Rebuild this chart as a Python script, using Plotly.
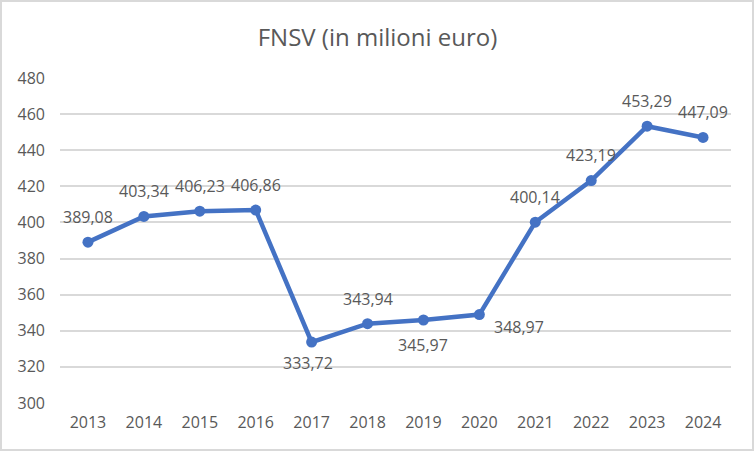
import plotly.graph_objects as go

years = ["2013", "2014", "2015", "2016", "2017", "2018",
         "2019", "2020", "2021", "2022", "2023", "2024"]
values = [389.08, 403.34, 406.23, 406.86, 333.72, 343.94,
          345.97, 348.97, 400.14, 423.19, 453.29, 447.09]
# label text as shown (Italian decimal comma)
labels = [f"{v:.2f}".replace(".", ",") for v in values]
# where each label sits relative to its point (dx, dy) in pixels
label_shift = [(0, 25), (0, 25), (0, 25), (0, 25), (-4, -21), (0, 25),
               (0, -25), (40, -12), (0, 25), (0, 26), (0, 25), (0, 25)]

W, H = 755, 452
ml, mr, mt, mb = 60, 24, 78, 49
pw, ph = W - ml - mr, H - mt - mb

grey = "#595959"
font_name = "Open Sans"

fig = go.Figure()
fig.add_trace(go.Scatter(
    x=years, y=values, mode="lines+markers",
    line=dict(color="#4472C4", width=4.5),
    marker=dict(color="#4472C4", size=11),
    hoverinfo="skip",
))

# category axis: annotations placed by category index
for i, (v, lab, (dx, dy)) in enumerate(zip(values, labels, label_shift)):
    fig.add_annotation(x=i, y=v, xref="x", yref="y", text=lab,
                       showarrow=False, xshift=dx, yshift=dy,
                       font=dict(family=font_name, size=16, color=grey))

fig.update_layout(
    width=W, height=H,
    margin=dict(l=ml, r=mr, t=mt, b=mb),
    paper_bgcolor="white", plot_bgcolor="white",
    showlegend=False,
    title=dict(text="FNSV (in milioni euro)", x=0.5, xanchor="center",
               y=1 - 38 / H, yanchor="middle",
               font=dict(family=font_name, size=24, color=grey)),
    xaxis=dict(type="category", range=[-0.5, 11.5], showgrid=False,
               showline=False, zeroline=False, ticks="",
               ticklabelstandoff=8,
               tickfont=dict(family=font_name, size=16, color=grey)),
    yaxis=dict(range=[300, 480], dtick=20, tick0=300, showgrid=True,
               gridcolor="#d9d9d9", gridwidth=1.5, zeroline=False,
               showline=False, ticks="", ticklabelstandoff=14,
               tickfont=dict(family=font_name, size=16, color=grey)),
    shapes=[dict(type="rect", xref="paper", yref="paper",
                 x0=(1 - ml) / pw, x1=(W - 2 - ml) / pw,
                 y0=(mt + ph - (H - 2)) / ph, y1=(mt + ph - 1) / ph,
                 line=dict(color="#d9d9d9", width=2), layer="below")],
)

fig.write_html("out.html", config={"displayModeBar": False},
               post_script="document.body.style.margin='0';")
